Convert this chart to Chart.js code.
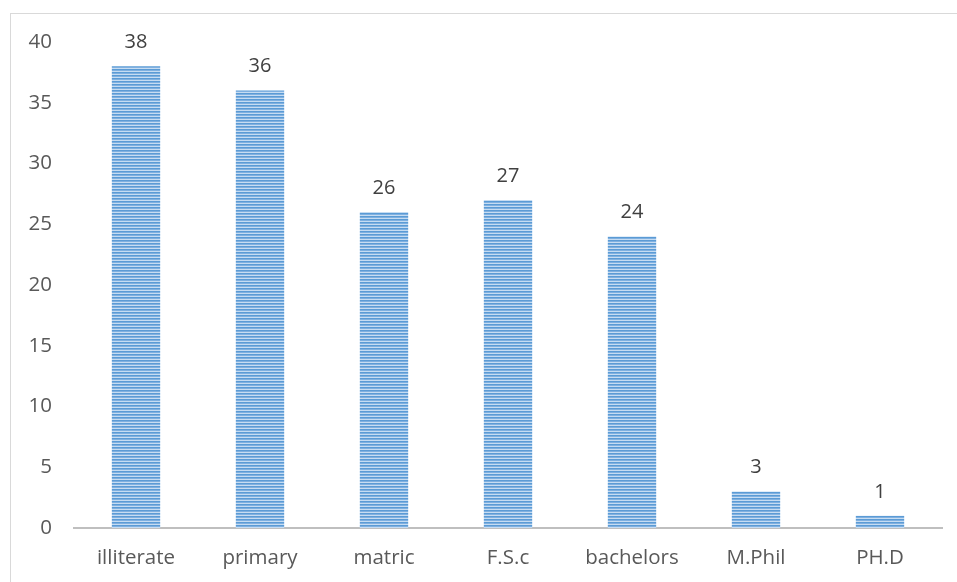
<!DOCTYPE html>
<html>
<head>
<meta charset="utf-8">
<script src="https://cdn.jsdelivr.net/npm/chart.js@4"></script>
<style>
  html, body { margin: 0; padding: 0; background: #fff; overflow: hidden; }
  #wrap { position: relative; width: 957px; height: 582px; }
  #frame { position: absolute; left: 10px; top: 13px; width: 1000px; height: 700px;
           border-left: 1px solid #d9d9d9; border-top: 1px solid #d9d9d9; }
  canvas { position: absolute; left: 0; top: 0; }
</style>
</head>
<body>
<div id="wrap">
  <div id="frame"></div>
  <canvas id="chart" width="957" height="582"></canvas>
</div>
<script>
// --- Data ---
const categories = ['illiterate', 'primary', 'matric', 'F.S.c', 'bachelors', 'M.Phil', 'PH.D'];
const values = [38, 36, 26, 27, 24, 3, 1];
const yTicks = [0, 5, 10, 15, 20, 25, 30, 35, 40];

const FONT = '"Open Sans", sans-serif';
const TEXT_COLOR = '#595959';

// --- Striped fill for bars ---
function makeStripes() {
    const c = document.createElement('canvas');
    c.width = 4; c.height = 3;
    const g = c.getContext('2d');
    g.fillStyle = '#5b9bd5'; g.fillRect(0, 0, 4, 1);
    g.fillStyle = '#7fb0e0'; g.fillRect(0, 1, 4, 1);
    g.fillStyle = '#c6dcf2'; g.fillRect(0, 2, 4, 1);
    return g.createPattern(c, 'repeat');
}

// --- Value labels above bars ---
const valueLabels = {
    id: 'valueLabels',
    afterDatasetsDraw(chart) {
        const ctx = chart.ctx;
        const meta = chart.getDatasetMeta(0);
        ctx.save();
        ctx.font = '20px ' + FONT;
        ctx.fillStyle = '#404040';
        ctx.textAlign = 'center';
        ctx.textBaseline = 'middle';
        meta.data.forEach((bar, i) => {
            ctx.fillText(values[i], bar.x, bar.y - 24);
        });
        ctx.restore();
    }
};

const ctx = document.getElementById('chart').getContext('2d');
new Chart(ctx, {
    type: 'bar',
    data: {
        labels: categories,
        datasets: [{
            data: values,
            backgroundColor: makeStripes(),
            borderWidth: 0,
            categoryPercentage: 1,
            barPercentage: 0.39
        }]
    },
    options: {
        responsive: false,
        animation: false,
        layout: { padding: { top: 42, right: 15, left: 0, bottom: 0 } },
        plugins: { legend: { display: false }, tooltip: { enabled: false } },
        scales: {
            x: {
                grid: { display: false, drawTicks: false },
                border: { display: true, color: '#bfbfbf', width: 2 },
                ticks: { color: TEXT_COLOR, font: { family: FONT, size: 20.5 }, padding: 18, maxRotation: 0 },
                afterFit(scale) { scale.height = 54; }
            },
            y: {
                min: 0, max: 40,
                afterBuildTicks(scale) { scale.ticks = yTicks.map(v => ({ value: v })); },
                grid: { display: false, drawTicks: false },
                border: { display: false },
                ticks: { color: TEXT_COLOR, font: { family: FONT, size: 20.5 }, padding: 22 },
                afterFit(scale) { scale.width = 74; }
            }
        }
    },
    plugins: [valueLabels]
});
</script>
</body>
</html>
